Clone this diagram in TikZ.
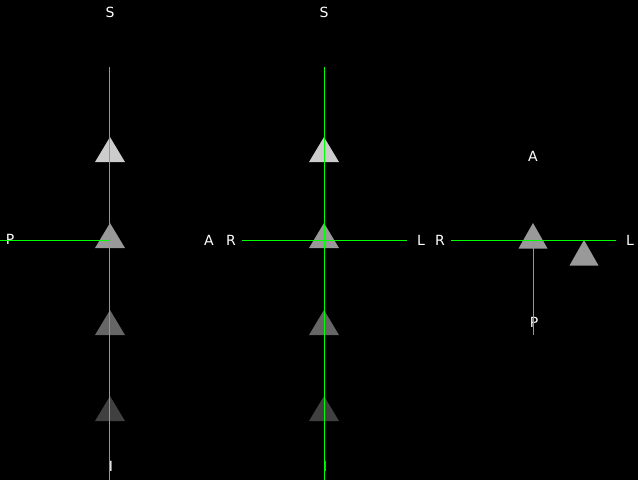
\documentclass[tikz,border=0pt]{standalone}
\usepackage{fontspec}
\setmainfont{DejaVu Sans}
\definecolor{axisgreen}{RGB}{0,255,0}
\tikzset{
  axis/.style={draw=axisgreen, line width=1pt},
  lbl/.style={text=white, inner sep=0pt, font=\fontsize{14}{14}\selectfont},
  cone/.style={fill=white!#1!black},
}
\begin{document}
\begin{tikzpicture}[x=1pt, y=-1pt]
  \fill[black] (0,0) rectangle (638,480);
  \useasboundingbox (0,0) rectangle (638,480);
  % cones of the two upright views
  \foreach \cx in {110, 324} {
    \foreach \ty/\sh in {137/80, 223/60, 310/40, 396/25} {
      \fill[cone=\sh] (\cx,\ty) -- ++(15,25) -- ++(-30,0) -- cycle;
    }
  }
  % cones of the top view
  \fill[cone=60] (533,223) -- ++(14.5,25.5) -- ++(-29,0) -- cycle;
  \fill[cone=60] (584,240) -- ++(14.5,25.5) -- ++(-29,0) -- cycle;
  % labels
  \node[lbl] (s1) at (110,12) {S};
  \node[lbl] (i1) at (111,466) {I};
  \node[lbl] (p1) at (10,239) {P};
  \node[lbl] (s2) at (324,12) {S};
  \node[lbl] (i2) at (325,466) {I};
  \node[lbl] (a2) at (209,240) {A};
  \node[lbl] (r2) at (231,240) {R};
  \node[lbl] (l2) at (421,240) {L};
  \node[lbl] (a3) at (533,156) {A};
  \node[lbl] (p3) at (534,322) {P};
  \node[lbl] (r3) at (440,240) {R};
  \node[lbl] (l3) at (630,240) {L};
  % axes
  \coordinate (top1) at (109.5,67);
  \coordinate (bot1) at (109.5,480);
  \coordinate (left1) at (0,240);
  \coordinate (mid1) at (109.5,240);
  \draw[axis] (top1) -- (bot1);
  \draw[axis] (left1) -- (mid1);
  \coordinate (top2) at (324,67);
  \coordinate (bot2) at (324,480);
  \coordinate (left2) at (242,240);
  \coordinate (right2) at (407,240);
  \draw[axis] (top2) -- (bot2);
  \draw[axis] (left2) -- (right2);
  \coordinate (left3) at (451,240);
  \coordinate (right3) at (616,240);
  \coordinate (mid3) at (533,240);
  \coordinate (bot3) at (533,335);
  \draw[axis] (left3) -- (right3);
  \draw[axis] (mid3) -- (bot3);
\end{tikzpicture}
\end{document}
